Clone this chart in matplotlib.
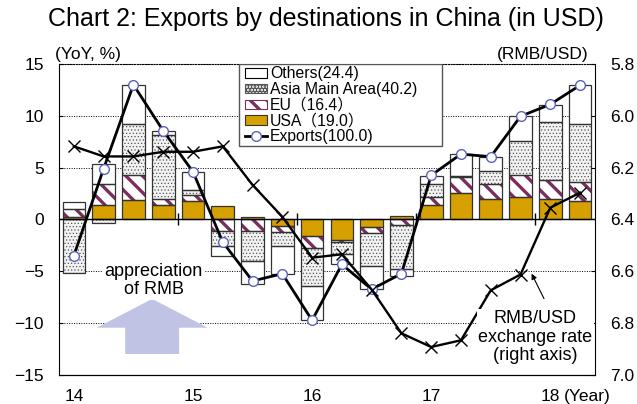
import numpy as np
import matplotlib
matplotlib.use('Agg')
from matplotlib import pyplot as plt
from matplotlib.patches import Patch, FancyArrow, Rectangle
from matplotlib.lines import Line2D

# quarterly data, 2014Q1 - 2018Q2
quarters = ['14Q1', '14Q2', '14Q3', '14Q4', '15Q1', '15Q2', '15Q3', '15Q4', '16Q1',
            '16Q2', '16Q3', '16Q4', '17Q1', '17Q2', '17Q3', '17Q4', '18Q1', '18Q2']
usa = [0.2, 1.35, 1.9, 1.35, 1.8, 1.25, 0.25, -0.6, -1.65, -1.95, -0.7, 0.3,
       1.35, 2.5, 1.95, 2.2, 2.0, 1.8]
eu = [0.8, 2.1, 2.4, 0.65, 0.55, -1.1, -1.1, -0.6, -1.1, -0.25, -0.6, -0.5,
      0.8, 1.55, 1.45, 2.05, 1.8, 1.8]
asia = [-5.2, -0.4, 4.9, 6.15, 0.5, -1.5, -2.9, -1.4, -3.65, -1.1, -3.2, -4.3,
        1.25, 0.15, 1.3, 3.3, 5.6, 5.65]
others = [0.7, 1.85, 3.8, 0.4, 1.75, -0.9, -2.2, -2.7, -3.3, -1.05, -2.25, -0.7,
          0.8, 2.1, 1.35, 2.4, 1.65, 3.7]
exports = [-3.5, 4.9, 13.0, 8.55, 4.6, -2.2, -5.95, -5.25, -9.75, -4.35, -6.75, -5.25,
           4.25, 6.3, 6.05, 9.95, 11.1, 12.95]
rate = [6.118, 6.157, 6.157, 6.139, 6.139, 6.118, 6.267, 6.39, 6.548, 6.535, 6.671, 6.84,
        6.893, 6.867, 6.674, 6.613, 6.355, 6.297]
year_labels = ['14', '15', '16', '17', '18']
legend_labels = ['Others(24.4)', 'Asia Main Area(40.2)', 'EU（16.4）', 'USA（19.0）', 'Exports(100.0)']

plt.rcParams['font.family'] = ['Liberation Sans', 'Noto Sans CJK JP']
plt.rcParams['hatch.linewidth'] = 2.4

gold = '#D6A000'
purple = '#7B2E5E'
dots = '#555555'
edge = '#333333'
dot_hatch = '.....'

fig = plt.figure(figsize=(6.37, 4.04), dpi=100)
ax = fig.add_axes([0.0926, 0.0725, 0.8414, 0.7691])

x = np.arange(len(quarters))
w = 0.76

# stacked bars: positives go up from 0, negatives go down from 0
series = [(usa, gold, None, gold),
          (eu, 'white', '\\\\', purple),
          (asia, '#f2f2f2', dot_hatch, dots),
          (others, 'white', None, 'white')]
pos_bottom = np.zeros(len(x))
neg_bottom = np.zeros(len(x))
for vals, face, hatch, hcol in series:
    v = np.array(vals)
    bottom = np.where(v >= 0, pos_bottom, neg_bottom)
    b = ax.bar(x, v, w, bottom=bottom, color=face, hatch=hatch, edgecolor=hcol,
               linewidth=0, zorder=2)
    if hatch == dot_hatch:
        for p in b:
            if hasattr(p, 'set_hatch_linewidth'):
                p.set_hatch_linewidth(0.5)
    ax.bar(x, v, w, bottom=bottom, fill=False, edgecolor=edge, linewidth=0.9, zorder=3)
    pos_bottom += np.where(v >= 0, v, 0)
    neg_bottom += np.where(v < 0, v, 0)

ax.plot(x, exports, color='black', lw=2, marker='o', ms=7, mfc='white',
        mec='#5B62C0', mew=1, zorder=5)

ax.axhline(0, color='black', lw=1, zorder=4)
ax.vlines(x[4::4] - 0.5, -0.5, 0.6, color='black', lw=1, zorder=4)

ax.set_xlim(-0.5, 17.5)
ax.set_ylim(-15, 15)
ax.set_yticks(np.arange(-15, 16, 5))
ax.set_xticks(x[::4])
ax.set_xticklabels(year_labels)
ax.yaxis.grid(True, linestyle=(0, (1, 1.5)), color='black', lw=0.7)
ax.set_axisbelow(True)
ax.tick_params(axis='y', direction='in', length=3, labelsize=12.5, pad=11)
ax.tick_params(axis='x', length=0, labelsize=12.5, pad=10)
ax.spines['right'].set_visible(False)
ax.spines['top'].set_linestyle((0, (1, 1.5)))
ax.spines['top'].set_linewidth(0.8)

# right axis: exchange rate
ax2 = ax.twinx()
ax2.plot(x, rate, color='black', lw=1.7, marker='x', ms=8.5, mew=1, zorder=3)
ax2.set_ylim(7.0, 5.8)
ax2.set_yticks(np.arange(5.8, 7.01, 0.2))
ax2.set_yticklabels(['%.1f' % t for t in np.arange(5.8, 7.01, 0.2)])
ax2.tick_params(axis='y', direction='in', length=3, labelsize=12.5, pad=11)
ax2.spines['top'].set_visible(False)
ax2.spines['left'].set_visible(False)

# legend
handles = [Patch(facecolor='white', edgecolor='black', lw=0.8),
           Patch(facecolor='#f2f2f2', edgecolor=dots, hatch=dot_hatch, lw=0.8),
           Patch(facecolor='white', edgecolor=purple, hatch='\\\\', lw=0.8),
           Patch(facecolor=gold, edgecolor=edge, lw=0.8),
           Line2D([], [], color='black', lw=2, marker='o', ms=7, mfc='white', mec='#5B62C0')]
ax2.add_patch(Rectangle((0.336, 0.735), 0.379, 0.265, transform=ax2.transAxes,
                        facecolor='white', edgecolor='#555555', lw=1, zorder=4))
leg = ax2.legend(handles, legend_labels, loc='upper left', bbox_to_anchor=(0.342, 1.0),
                 frameon=False, fontsize=11.3, handlelength=1.45, handleheight=0.55,
                 handletextpad=0.15, labelspacing=0.05, borderpad=0.15, borderaxespad=0)
leg.set_zorder(6)

# texts
fig.text(0.511, 0.953, 'Chart 2: Exports by destinations in China (in USD)',
         ha='center', va='center', fontsize=18)
ax.annotate('(YoY, %)', xy=(0, 1), xycoords='axes fraction', xytext=(-3, 1.5),
            textcoords='offset points', ha='left', va='bottom', fontsize=12.5)
ax.annotate('(RMB/USD)', xy=(1, 1), xycoords='axes fraction', xytext=(-5, 1.5),
            textcoords='offset points', ha='right', va='bottom', fontsize=12.5)
ax.annotate('(Year)', xy=(16, 0), xycoords=('data', 'axes fraction'), xytext=(10, -10),
            textcoords='offset points', ha='left', va='top', fontsize=12.5)

# appreciation of RMB
ax.add_patch(FancyArrow(2.63, -13.0, 0, 5.32, width=1.81, head_width=3.72,
                        head_length=2.78, length_includes_head=True,
                        color='#C0C3E3', lw=0, zorder=3))
ax.text(2.68, -5.9, 'appreciation\nof RMB', ha='center', va='center', fontsize=13,
        linespacing=1.1, zorder=4,
        bbox=dict(facecolor='white', edgecolor='none', pad=1))

ax2.text(15.49, 6.856, 'RMB/USD\nexchange rate\n(right axis)', ha='center', va='center',
         fontsize=13, linespacing=1.12, zorder=4,
         bbox=dict(facecolor='white', edgecolor='none', pad=1))
ax2.annotate('', xy=(15.33, 6.6), xytext=(15.83, 6.716),
             arrowprops=dict(arrowstyle='-|>', color='black', lw=0.8, mutation_scale=8))

plt.savefig('out.png', dpi=100)
